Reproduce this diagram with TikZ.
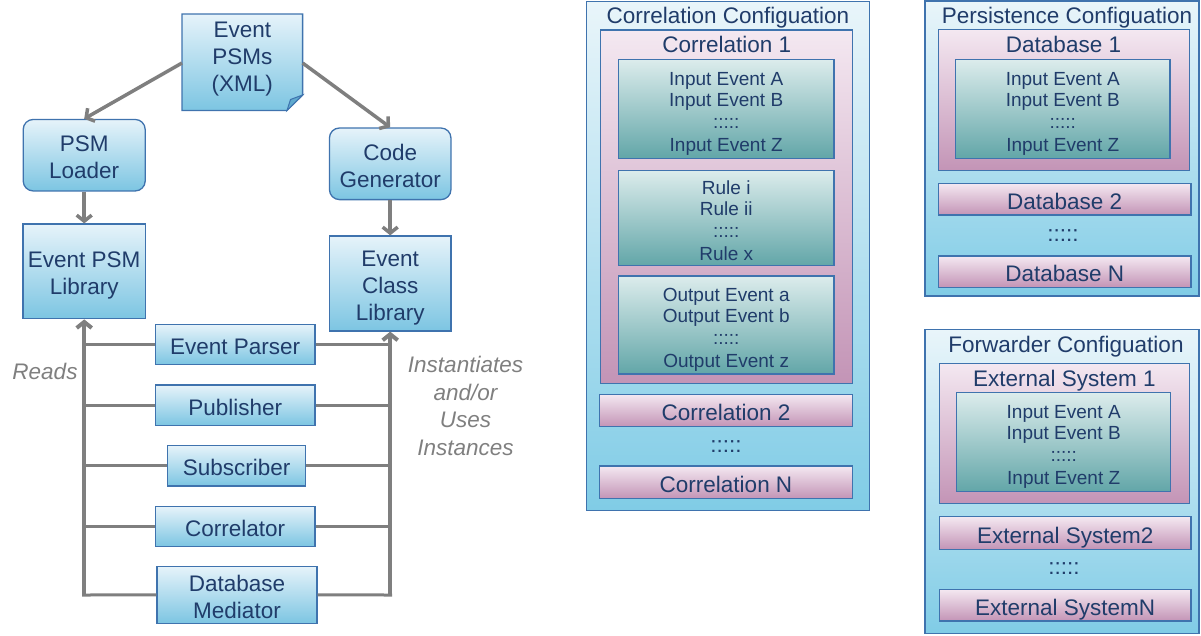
\documentclass[tikz,border=0pt]{standalone}
\usepackage{fontspec}
\setmainfont{Liberation Sans}
\usetikzlibrary{arrows.meta,calc}

\definecolor{navy}{HTML}{203C6A}
\definecolor{edge}{HTML}{3F73AE}
\definecolor{bluetop}{HTML}{E6F3FA}
\definecolor{bluebot}{HTML}{7CC5E2}
\definecolor{cfgtop}{HTML}{E9F5FA}
\definecolor{cfgbot}{HTML}{80CCE6}
\definecolor{pinktop}{HTML}{F4E8F1}
\definecolor{pinkbot}{HTML}{C394B6}
\definecolor{tealtop}{HTML}{DCECEC}
\definecolor{tealbot}{HTML}{62A6A8}
\definecolor{link}{HTML}{7F7F7F}
\definecolor{foldc}{HTML}{5FA9CE}

% struts that keep the text block of a box slightly below its middle
\newcommand{\tp}{\rule{0pt}{25pt}}
\newcommand{\bt}{\rule[-5pt]{0pt}{5pt}}
\newcommand{\tps}{\rule{0pt}{24.3pt}}
\newcommand{\dotrow}{:::::}

\tikzset{
  big/.style={font=\fontsize{22.5}{27}\selectfont},
  small/.style={font=\fontsize{19}{21}\selectfont},
  bluebox/.style={draw=edge, line width=1.3pt, top color=bluetop, bottom color=bluebot,
    text=navy, big, align=center, inner sep=0pt},
  cfgbox/.style={draw=edge, line width=1.3pt, top color=cfgtop, bottom color=cfgbot, inner sep=0pt},
  pinkbox/.style={draw=edge, line width=1.3pt, top color=pinktop, bottom color=pinkbot,
    text=navy, big, align=center, inner sep=0pt},
  tealbox/.style={draw=edge, line width=1.3pt, top color=tealtop, bottom color=tealbot,
    text=navy, small, align=center, inner sep=0pt},
  caption/.style={text=navy, big, inner sep=0pt, anchor=base},
  dots/.style={text=navy, big, inner sep=0pt, anchor=base},
  arr/.style={draw=link, line width=3.5pt, -{Straight Barb[length=6pt,width=15pt]}},
  trunk/.style={draw=link, line width=4pt, -{Straight Barb[length=6pt,width=15pt]}},
  wire/.style={draw=link, line width=3pt},
  note/.style={text=link, font=\fontsize{22.5}{27.5}\selectfont\itshape, align=center, inner sep=0pt}
}

\begin{document}
\begin{tikzpicture}[x=1pt,y=-1pt]
\useasboundingbox (0,0) rectangle (1201,635);

% ---------- source document with folded corner ----------
\shade[top color=bluetop, bottom color=bluebot, draw=edge, line width=1.3pt]
  (182,14) -- (302.6,14) -- (302.6,95) -- (287,110.5) -- (182,110.5) -- cycle;
\fill[foldc, draw=edge, line width=1pt] (287,110.5) -- (302.6,95) -- (290.5,99.5) -- cycle;
\node[text=navy, big, align=center, inner sep=0pt] (psmstext) at (242.3,54) {\tp Event\\PSMs\\(XML)\bt};
\coordinate (psmsW) at (182,63);
\coordinate (psmsE) at (302.6,63);

% ---------- tool chain ----------
\node[bluebox, rounded corners=10pt, minimum width=122pt, minimum height=71.5pt] (loader) at (84.2,155.2) {\tp PSM\\Loader\bt};
\node[bluebox, rounded corners=10pt, minimum width=121.5pt, minimum height=71.6pt] (codegen) at (390.2,163.8) {\tp Code\\Generator\bt};
\node[bluebox, minimum width=122.5pt, minimum height=94.7pt] (psmlib) at (84.2,271.4) {\tp Event PSM\\Library\bt};
\node[bluebox, minimum width=121.5pt, minimum height=95pt] (clslib) at (390.2,283.5) {\tp Event\\Class\\Library\bt};

\draw[arr] (psmsW) -- (loader.north);
\draw[arr] (psmsE) -- (codegen.north);
\draw[arr] (loader.south) -- (psmlib.north);
\draw[arr] (codegen.south) -- (clslib.north);

% ---------- components ----------
\node[bluebox, minimum width=159.6pt, minimum height=40.2pt] (parser) at (235.2,344.5) {\tp Event Parser\bt};
\node[bluebox, minimum width=159.6pt, minimum height=40.3pt] (publisher) at (235.2,405.2) {\tp Publisher\bt};
\node[bluebox, minimum width=138.2pt, minimum height=40.6pt] (subscriber) at (236.7,465.7) {\tp Subscriber\bt};
\node[bluebox, minimum width=159.6pt, minimum height=40.2pt] (correlator) at (235.2,526.5) {\tp Correlator\bt};
\node[bluebox, minimum width=160.1pt, minimum height=56.3pt] (mediator) at (237,594.9) {\tp Database\\Mediator\bt};

\coordinate (trunkL) at (84.2,595);
\coordinate (trunkR) at (390.2,595);
\draw[wire] (mediator.west) -- ([xshift=-2pt]trunkL);
\draw[wire] (mediator.east) -- ([xshift=2pt]trunkR);
\draw[trunk] (trunkL) -- (psmlib.south);
\draw[trunk] (trunkR) -- (clslib.south);
\foreach \n in {parser,publisher,subscriber,correlator}{
  \draw[wire] (\n.west) -- (\n.west -| trunkL);
  \draw[wire] (\n.east) -- (\n.east -| trunkR);
}

\node[note, anchor=base] (reads) at (45,379) {Reads};
\node[note] (uses) at (465.5,406) {Instantiates\\and/or\\Uses\\Instances};

% ---------- correlation configuration ----------
\node[cfgbox, minimum width=282.6pt, minimum height=509pt] (corrcfg) at (728,256.2) {};
\node[caption] (corrcfgt) at (728,23.4) {Correlation Configuation};
\node[pinkbox, minimum width=252pt, minimum height=353.3pt] (corr1) at (726.7,206.7) {};
\node[caption] (corr1t) at (726.7,52.7) {Correlation 1};
\node[tealbox, minimum width=215.7pt, minimum height=99pt] (cin) at (726.2,108.8)
  {\tps Input Event A\\[0pt]Input Event B\\[1pt]\dotrow\\[2pt]Input Event Z\bt};
\node[tealbox, minimum width=215.7pt, minimum height=94.3pt] (crule) at (726.2,217.9)
  {\tps Rule i\\[0pt]Rule ii\\[1pt]\dotrow\\[2pt]Rule x\bt};
\node[tealbox, minimum width=215.7pt, minimum height=98pt] (cout) at (726.2,325)
  {\tps Output Event a\\[0pt]Output Event b\\[1pt]\dotrow\\[2pt]Output Event z\bt};
\node[pinkbox, minimum width=253.4pt, minimum height=32.4pt] (corr2) at (726,410.5) {\tp Correlation 2\bt};
\node[dots] (corrdots) at (726,452) {\dotrow};
\node[pinkbox, minimum width=253.4pt, minimum height=32.7pt] (corrn) at (726,482.3) {\tp Correlation N\bt};

% ---------- persistence configuration ----------
\node[cfgbox, minimum width=274pt, minimum height=295pt] (perscfg) at (1062,148.5) {};
\node[caption] (perscfgt) at (1067,23.3) {Persistence Configuation};
\node[pinkbox, minimum width=251pt, minimum height=141.4pt] (db1) at (1063.8,100) {};
\node[caption] (db1t) at (1063.5,52.7) {Database 1};
\node[tealbox, minimum width=214.3pt, minimum height=99pt] (dbin) at (1062.8,108.8)
  {\tps Input Event A\\[0pt]Input Event B\\[1pt]\dotrow\\[2pt]Input Event Z\bt};
\node[pinkbox, minimum width=252.7pt, minimum height=31.7pt] (db2) at (1064.7,199.2) {\tp Database 2\bt};
\node[dots] (dbdots) at (1063,241) {\dotrow};
\node[pinkbox, minimum width=252.7pt, minimum height=31.3pt] (dbn) at (1064.7,271.7) {\tp Database N\bt};

% ---------- forwarder configuration ----------
\node[cfgbox, minimum width=274pt, minimum height=304pt] (fwdcfg) at (1062,481.3) {};
\node[caption] (fwdcfgt) at (1066,352.3) {Forwarder Configuation};
\node[pinkbox, minimum width=250pt, minimum height=140pt] (ext1) at (1064.3,433.3) {};
\node[caption] (ext1t) at (1064.3,386) {External System 1};
\node[tealbox, minimum width=214pt, minimum height=99pt] (extin) at (1063.7,442.2)
  {\tps Input Event A\\[0pt]Input Event B\\[1pt]\dotrow\\[2pt]Input Event Z\bt};
\node[pinkbox, minimum width=251.7pt, minimum height=32.6pt] (ext2) at (1065.2,533) {\tp External System2\bt};
\node[dots] (extdots) at (1064,574) {\dotrow};
\node[pinkbox, minimum width=251.7pt, minimum height=31.7pt] (extn) at (1065.2,605.2) {\tp External SystemN\bt};
\end{tikzpicture}
\end{document}
